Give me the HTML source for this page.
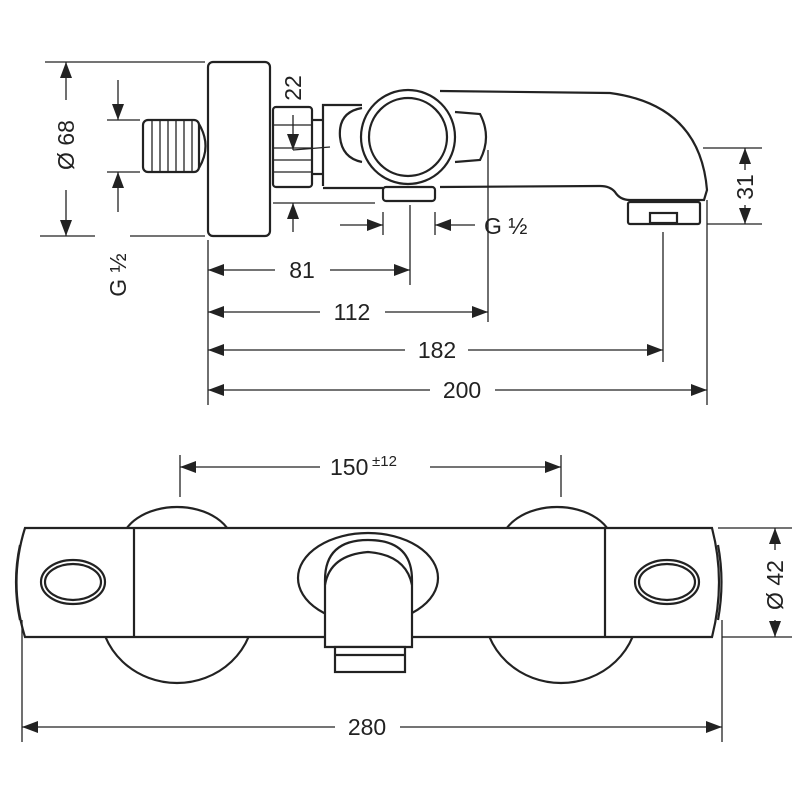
<!DOCTYPE html>
<html><head><meta charset="utf-8"><style>
html,body{margin:0;padding:0;background:#fff}
svg{display:block}
text{font-family:"Liberation Sans",sans-serif;font-size:23px;fill:#222}
</style></head><body>
<svg width="800" height="800" viewBox="0 0 800 800">
<defs>
<marker id="a" markerWidth="17" markerHeight="14" refX="16" refY="7" orient="auto" markerUnits="userSpaceOnUse"><path d="M0,1 L16,7 L0,13 Z" fill="#222"/></marker>
</defs>
<g stroke="#222" fill="none" stroke-width="2.2">
<rect x="208" y="62" width="62" height="174" rx="5" fill="#fff"/>
<rect x="143" y="120" width="56" height="52" rx="5"/>
<path d="M199,124 Q212,146 199,168"/>
<g stroke-width="1.3"><line x1="152" y1="121" x2="152" y2="171"/><line x1="160" y1="121" x2="160" y2="171"/><line x1="168" y1="121" x2="168" y2="171"/><line x1="176" y1="121" x2="176" y2="171"/><line x1="184" y1="121" x2="184" y2="171"/><line x1="192" y1="121" x2="192" y2="171"/></g>
<rect x="273" y="107" width="39" height="80" rx="3"/>
<g stroke-width="1.3"><line x1="274" y1="125" x2="311" y2="125"/><line x1="274" y1="148" x2="311" y2="148"/><line x1="274" y1="160" x2="311" y2="160"/><line x1="274" y1="172" x2="311" y2="172"/></g>
<line x1="312" y1="120" x2="323" y2="120"/><line x1="312" y1="174" x2="323" y2="174"/>
<path d="M323,186 L323,105 L362,105"/>
<path d="M440,91 L610,93 Q700,105 707,190 L704,200 L630,200 Q620,200 615,192 Q610,186 600,186 L440,187"/>
<rect x="628" y="202" width="72" height="22" rx="2"/>
<rect x="650" y="213" width="27" height="10"/>
<line x1="323" y1="188" x2="383" y2="188"/>
<rect x="383" y="187" width="52" height="14" rx="3"/>
<path d="M362,108 Q338,112 340,137 Q342,158 362,162"/>
<path d="M455,112 L480,114 Q492,137 480,160 L455,162"/>
<circle cx="408" cy="137" r="47" fill="#fff"/>
<circle cx="408" cy="137" r="39"/>
</g>
<g stroke="#222" stroke-width="1.3" fill="none">
<line x1="45" y1="62" x2="205" y2="62"/>
<line x1="40" y1="236" x2="95" y2="236"/><line x1="130" y1="236" x2="205" y2="236"/>
<line x1="66" y1="100" x2="66" y2="62" marker-end="url(#a)"/><line x1="66" y1="190" x2="66" y2="236" marker-end="url(#a)"/>
<line x1="107" y1="120" x2="140" y2="120"/><line x1="107" y1="172" x2="140" y2="172"/>
<line x1="118" y1="80" x2="118" y2="120" marker-end="url(#a)"/>
<line x1="118" y1="212" x2="118" y2="172" marker-end="url(#a)"/>
<line x1="293" y1="115" x2="293" y2="150" marker-end="url(#a)"/>
<line x1="293" y1="150" x2="330" y2="147"/>
<line x1="273" y1="203" x2="375" y2="203"/>
<line x1="293" y1="232" x2="293" y2="203" marker-end="url(#a)"/>
<line x1="340" y1="225" x2="383" y2="225" marker-end="url(#a)"/>
<line x1="383" y1="212" x2="383" y2="235"/>
<line x1="475" y1="225" x2="435" y2="225" marker-end="url(#a)"/>
<line x1="435" y1="212" x2="435" y2="235"/>
<line x1="208" y1="240" x2="208" y2="405"/>
<line x1="410" y1="205" x2="410" y2="285"/>
<line x1="488" y1="150" x2="488" y2="322"/>
<line x1="663" y1="232" x2="663" y2="362"/>
<line x1="707" y1="200" x2="707" y2="405"/>
<line x1="275" y1="270" x2="208" y2="270" marker-end="url(#a)"/><line x1="330" y1="270" x2="410" y2="270" marker-end="url(#a)"/>
<line x1="320" y1="312" x2="208" y2="312" marker-end="url(#a)"/><line x1="385" y1="312" x2="488" y2="312" marker-end="url(#a)"/>
<line x1="405" y1="350" x2="208" y2="350" marker-end="url(#a)"/><line x1="468" y1="350" x2="663" y2="350" marker-end="url(#a)"/>
<line x1="430" y1="390" x2="208" y2="390" marker-end="url(#a)"/><line x1="495" y1="390" x2="707" y2="390" marker-end="url(#a)"/>
<line x1="703" y1="148" x2="762" y2="148"/><line x1="707" y1="224" x2="762" y2="224"/>
<line x1="745" y1="170" x2="745" y2="148" marker-end="url(#a)"/><line x1="745" y1="205" x2="745" y2="224" marker-end="url(#a)"/>
</g>
<g transform="rotate(-90 66 145)"><text x="66" y="153" text-anchor="middle">Ø 68</text></g>
<g transform="rotate(-90 118 275)"><text x="118" y="283" text-anchor="middle">G ½</text></g>
<g transform="rotate(-90 293 88)"><text x="293" y="96" text-anchor="middle">22</text></g>
<g transform="rotate(-90 745 187)"><text x="745" y="195" text-anchor="middle">31</text></g>
<text x="484" y="234">G ½</text>
<text x="302" y="278" text-anchor="middle">81</text>
<text x="352" y="320" text-anchor="middle">112</text>
<text x="437" y="358" text-anchor="middle">182</text>
<text x="462" y="398" text-anchor="middle">200</text>
<g stroke="#222" stroke-width="2.2" fill="#fff">
<ellipse cx="177" cy="545" rx="56" ry="38"/>
<ellipse cx="557" cy="545" rx="56" ry="38"/>
<ellipse cx="177" cy="610" rx="77" ry="73"/>
<ellipse cx="561" cy="610" rx="77" ry="73"/>
<path d="M25,528 L712,528 Q726,582 712,637 L25,637 Q8,582 25,528 Z"/>
<line x1="134" y1="528" x2="134" y2="637"/>
<line x1="605" y1="528" x2="605" y2="637"/>
<path d="M20,545 Q12,582 20,620" fill="none"/>
<path d="M718,545 Q725,582 718,620" fill="none"/>
<ellipse cx="73" cy="582" rx="32" ry="22"/>
<ellipse cx="73" cy="582" rx="28" ry="18"/>
<ellipse cx="667" cy="582" rx="32" ry="22"/>
<ellipse cx="667" cy="582" rx="28" ry="18"/>
<ellipse cx="368" cy="578" rx="70" ry="45"/>
<path d="M325,647 L325,580 Q325,540 368,540 Q412,540 412,580 L412,647 Z"/>
<path d="M325,585 Q330,555 368,552 Q406,555 412,585" fill="none"/>
<rect x="335" y="647" width="70" height="25"/>
<line x1="335" y1="655" x2="405" y2="655"/>
</g>
<g stroke="#222" stroke-width="1.3" fill="none">
<line x1="180" y1="455" x2="180" y2="497"/><line x1="561" y1="455" x2="561" y2="497"/>
<line x1="320" y1="467" x2="180" y2="467" marker-end="url(#a)"/><line x1="430" y1="467" x2="561" y2="467" marker-end="url(#a)"/>
<line x1="22" y1="620" x2="22" y2="742"/><line x1="722" y1="620" x2="722" y2="742"/>
<line x1="335" y1="727" x2="22" y2="727" marker-end="url(#a)"/><line x1="400" y1="727" x2="722" y2="727" marker-end="url(#a)"/>
<line x1="718" y1="528" x2="792" y2="528"/><line x1="722" y1="637" x2="792" y2="637"/>
<line x1="775" y1="550" x2="775" y2="528" marker-end="url(#a)"/><line x1="775" y1="620" x2="775" y2="637" marker-end="url(#a)"/>
</g>
<text x="330" y="475">150</text><text x="372" y="466" style="font-size:15px">±12</text>
<text x="367" y="735" text-anchor="middle">280</text>
<g transform="rotate(-90 775 585)"><text x="775" y="593" text-anchor="middle">Ø 42</text></g>
</svg>
</body></html>
